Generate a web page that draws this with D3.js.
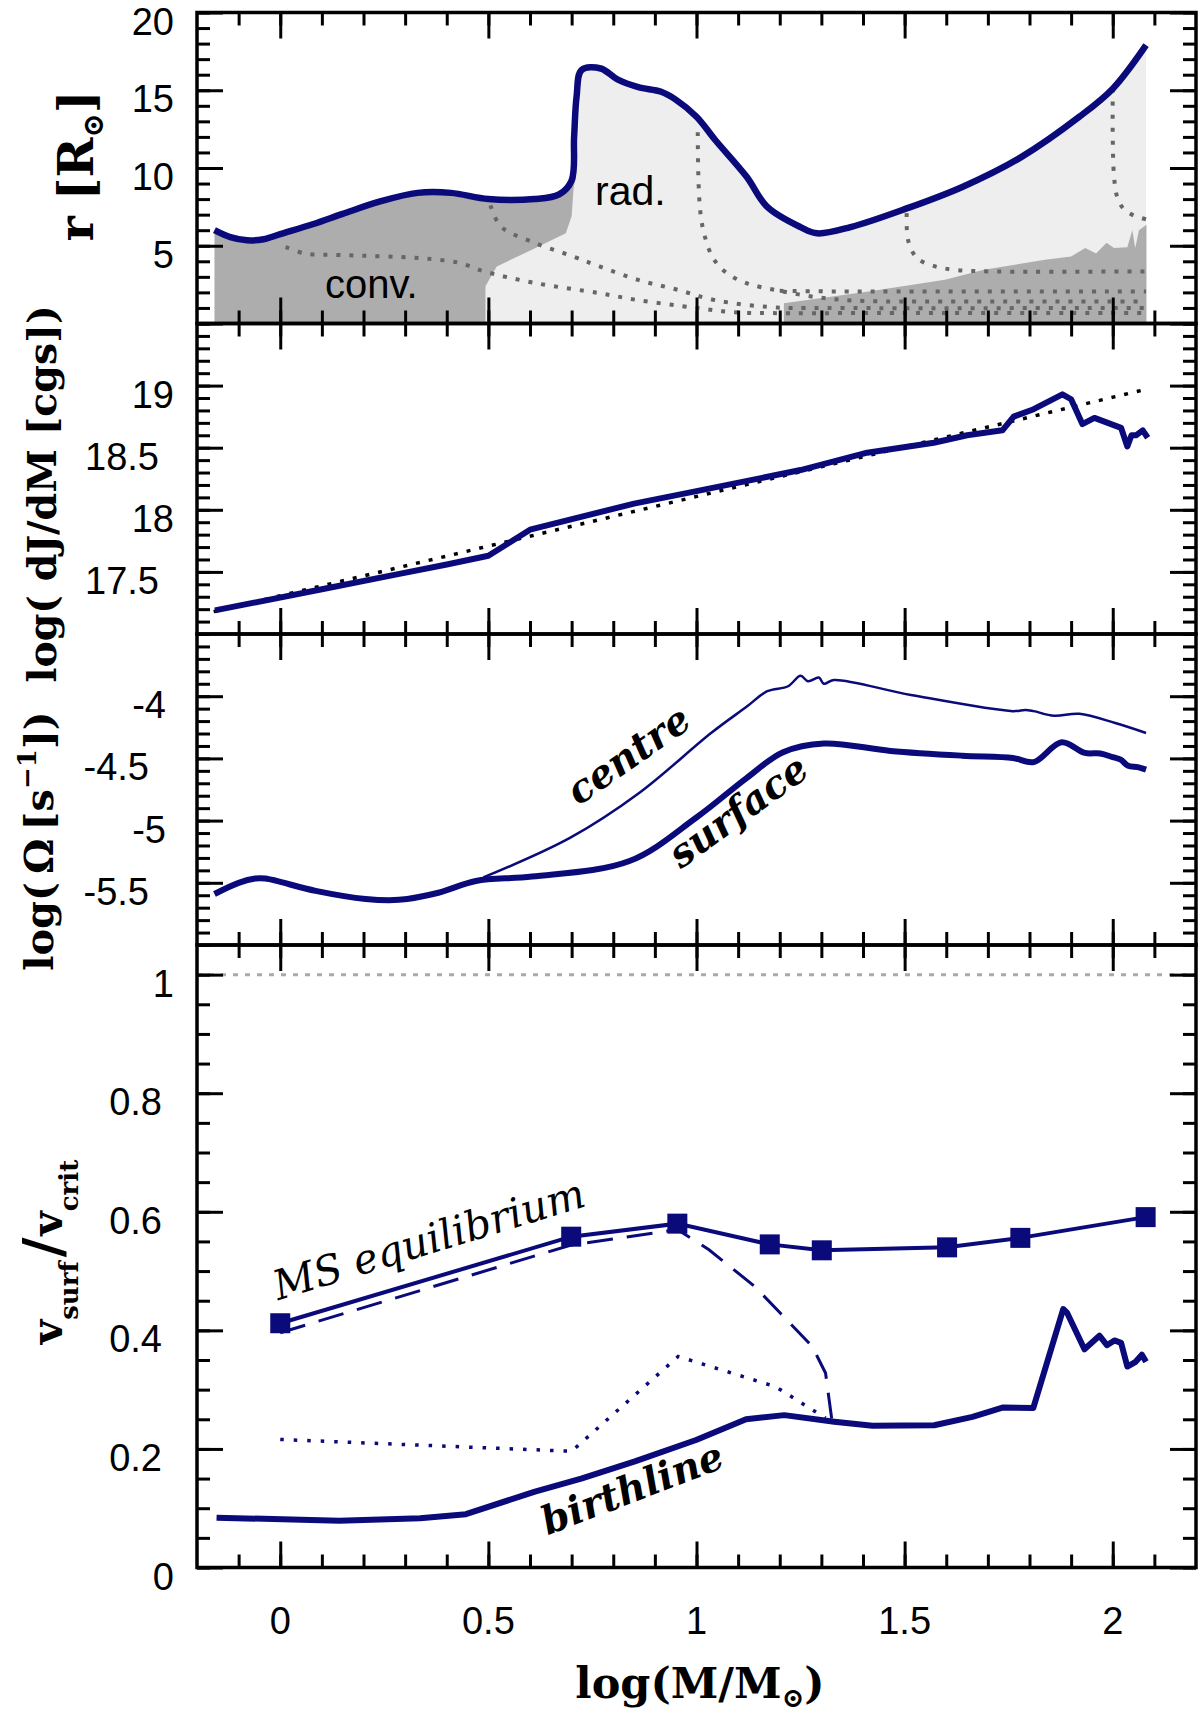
<!DOCTYPE html>
<html>
<head>
<meta charset="utf-8">
<script src="https://cdn.jsdelivr.net/npm/d3@7"></script>
<style>
  body { margin: 0; background: #fff; }
  text { fill: #000; }
</style>
</head>
<body>
<script>
// ---- data ------------------------------------------------------------

// x axis: log(M/Msun)
var xMajor = [0, 0.5, 1, 1.5, 2];
var xLabels = ["0", "0.5", "1", "1.5", "2"];

// panel 1 : radius of the star [Rsun]
var rSurf = [[-0.158,6.0],[-0.12,5.55],[-0.08,5.35],[-0.04,5.42],[0.0,5.75],[0.08,6.4],[0.15,7.05],
  [0.24,7.85],[0.33,8.4],[0.41,8.4],[0.5,8.0],[0.61,8.0],[0.67,8.3],[0.70,9.2],[0.706,12.0],
  [0.712,14.6],[0.724,16.3],[0.77,16.4],[0.81,15.7],[0.86,15.2],[0.915,14.9],[0.95,14.4],
  [1.0,13.3],[1.045,11.8],[1.12,9.45],[1.17,7.5],[1.25,6.2],[1.29,5.8],[1.37,6.2],[1.505,7.4],
  [1.64,8.8],[1.78,10.7],[1.92,13.3],[2.0,15.1],[2.08,17.9]];
// top of the radiative core while the envelope is still convective
var coreTop = [[0.493,0],[0.493,2.4],[0.52,3.67],[0.613,4.85],[0.686,5.8],[0.70,6.9],[0.705,8.8],[0.71,9.3]];
// convective core of the massive stars
var convCore = [[1.21,0],[1.21,1.3],[1.413,2.06],[1.597,2.81],[1.69,3.45],[1.837,4.1],[1.90,4.31],
  [1.934,4.85],[1.96,4.5],[1.985,5.2],[2.003,4.85],[2.035,4.9],[2.047,6.0],[2.054,4.85],
  [2.063,6.0],[2.081,6.35],[2.081,0]];
// mass shells (dotted)
var shellA = [[0.013,4.93],[0.06,4.5],[0.15,4.4],[0.336,4.2],[0.43,3.9],[0.49,3.35],[0.613,2.6],
  [0.767,1.95],[0.86,1.5],[1.0,1.0],[1.09,0.72],[1.18,0.67],[1.4,0.67],[2.08,0.67]];
var shellB = [[0.505,7.6],[0.53,6.24],[0.613,5.17],[0.705,4.3],[0.767,3.67],[0.86,2.8],[0.95,2.2],
  [1.045,1.5],[1.18,1.05],[1.3,1.0],[2.08,1.0]];
var shellC = [[1.003,12.3],[1.005,9.0],[1.01,7.0],[1.02,5.6],[1.04,4.2],[1.07,3.3],[1.12,2.6],
  [1.2,2.1],[1.3,1.65],[1.4,1.45],[1.6,1.42],[2.08,1.42]];
var shellF = [[1.2,2.1],[1.35,2.06],[2.08,2.06]];
var shellD = [[1.505,7.1],[1.505,6.2],[1.51,5.2],[1.53,4.2],[1.57,3.7],[1.62,3.45],[1.7,3.35],[2.08,3.35]];
var shellE = [[2.0,15.1],[2.0,12.0],[2.003,9.5],[2.01,8.2],[2.025,7.4],[2.05,6.95],[2.08,6.7]];

// panel 2 : log dJ/dM [cgs]
var dJdM = [[-0.157,17.19],[0.1,17.36],[0.28,17.48],[0.4,17.56],[0.5,17.63],[0.6,17.84],[0.85,18.05],
  [1.0,18.15],[1.25,18.32],[1.41,18.46],[1.57,18.54],[1.65,18.6],[1.735,18.64],[1.762,18.75],
  [1.81,18.81],[1.879,18.93],[1.9,18.89],[1.927,18.69],[1.956,18.74],[1.988,18.70],[2.02,18.66],
  [2.035,18.51],[2.045,18.60],[2.056,18.60],[2.072,18.64],[2.084,18.58]];
var dJdMfit = [[-0.16,17.18],[2.08,18.97]];

// panel 3 : log Omega [s^-1]
var omegaSurf = [[-0.158,-5.59],[-0.1,-5.5],[-0.06,-5.466],[-0.036,-5.466],[0.085,-5.565],
  [0.205,-5.63],[0.285,-5.637],[0.38,-5.58],[0.47,-5.485],[0.605,-5.45],[0.839,-5.325],
  [0.999,-4.977],[1.121,-4.656],[1.208,-4.45],[1.306,-4.38],[1.466,-4.44],[1.638,-4.478],
  [1.76,-4.496],[1.81,-4.53],[1.877,-4.37],[1.933,-4.456],[1.97,-4.46],[2.0,-4.49],
  [2.019,-4.51],[2.037,-4.56],[2.06,-4.57],[2.08,-4.59]];
var omegaCentre = [[0.488,-5.457],[0.697,-5.137],[0.863,-4.776],[1.035,-4.296],[1.121,-4.083],
  [1.17,-3.96],[1.22,-3.92],[1.25,-3.836],[1.268,-3.88],[1.294,-3.85],[1.306,-3.9],[1.33,-3.87],
  [1.515,-3.99],[1.76,-4.12],[1.79,-4.11],[1.81,-4.12],[1.859,-4.157],[1.92,-4.141],
  [2.006,-4.216],[2.08,-4.296]];

// panel 4 : v_surf / v_crit
var msLogM = [0, 0.699, 0.954, 1.176, 1.301, 1.602, 1.778, 2.079];
var msRatio = [0.412, 0.558, 0.58, 0.545, 0.535, 0.54, 0.556, 0.591];
var dashRatio = [[0,0.396],[0.699,0.544],[0.954,0.57],[1.03,0.536],[1.14,0.474],[1.2,0.43],
  [1.278,0.373],[1.31,0.328],[1.325,0.25]];
var dotRatio = [[0,0.216],[0.70,0.196],[0.956,0.356],[1.19,0.305],[1.31,0.252]];
var birthRatio = [[-0.153,0.084],[0.142,0.079],[0.336,0.083],[0.446,0.09],[0.612,0.128],
  [0.723,0.150],[0.852,0.179],[0.999,0.215],[1.119,0.250],[1.211,0.257],[1.331,0.246],
  [1.423,0.239],[1.571,0.240],[1.663,0.254],[1.737,0.270],[1.809,0.269],[1.881,0.436],
  [1.89,0.43],[1.932,0.368],[1.968,0.391],[1.986,0.375],[2.004,0.383],[2.02,0.379],
  [2.035,0.339],[2.055,0.347],[2.07,0.359],[2.08,0.347]];

// ---- drawing -----------------------------------------------------------

var W = 1200, H = 1718;
var blue = "#0a0a7a";
var svg = d3.select("body").append("svg").attr("width", W).attr("height", H);

var x = d3.scaleLinear().domain([-0.2, 2.2]).range([197, 1196]);

var panels = [
  {y: d3.scaleLinear().domain([0, 20]).range([323.5, 12.5]), major: [0,5,10,15,20],
   minor: d3.range(0, 20.01, 1), labels: [5,10,15,20], fmt: d3.format("d"), endInt: 174, endDec: 174},
  {y: d3.scaleLinear().domain([17, 19.5]).range([634, 323.5]), major: [17.5,18,18.5,19],
   minor: d3.range(17, 19.51, 0.1), labels: [17.5,18,18.5,19], fmt: String, endInt: 174, endDec: 159},
  {y: d3.scaleLinear().domain([-6, -3.5]).range([945, 634]), major: [-5.5,-5,-4.5,-4],
   minor: d3.range(-6, -3.49, 0.1), labels: [-5.5,-5,-4.5,-4], fmt: String, endInt: 166, endDec: 149},
  {y: d3.scaleLinear().domain([0, 1.05]).range([1567.5, 945]), major: [0,0.2,0.4,0.6,0.8,1],
   minor: d3.range(0, 1.051, 0.05), labels: [0,0.2,0.4,0.6,0.8,1], fmt: String, endInt: 174, endDec: 162}
];

function line(yS, curve) {
  return d3.line().x(function(d){ return x(d[0]); }).y(function(d){ return yS(d[1]); })
    .curve(curve || d3.curveLinear);
}
var smooth = d3.curveCatmullRom.alpha(0.5);

// panel 1 ---------------------------------------------------------------
var y1 = panels[0].y;
var convEnv = rSurf.filter(function(d){ return d[0] <= 0.712; });
svg.append("path")
  .attr("d", line(y1)([[convEnv[0][0], 0]].concat(convEnv).concat([[0.712, 0]])) + "Z")
  .attr("fill", "#adadad");
var radPoly = coreTop.concat(rSurf.filter(function(d){ return d[0] > 0.712; })).concat([[2.08, 0]]);
svg.append("path").attr("d", line(y1)(radPoly) + "Z").attr("fill", "#eeeeee");
svg.append("path").attr("d", line(y1)(convCore) + "Z").attr("fill", "#adadad");

[shellA, shellB, shellC, shellF, shellD, shellE].forEach(function(s) {
  svg.append("path").attr("d", line(y1, smooth)(s))
    .attr("fill", "none").attr("stroke", "#666").attr("stroke-width", 4)
    .attr("stroke-dasharray", "4,9");
});
svg.append("path").attr("d", line(y1, smooth)(rSurf))
  .attr("fill", "none").attr("stroke", blue).attr("stroke-width", 6.5).attr("stroke-linejoin", "round");

svg.append("text").attr("x", 325).attr("y", 298).attr("font-family", "Liberation Sans, Arial")
  .attr("font-size", 40).text("conv.");
svg.append("text").attr("x", 595).attr("y", 205).attr("font-family", "Liberation Sans, Arial")
  .attr("font-size", 41).text("rad.");

// panel 2 ---------------------------------------------------------------
var y2 = panels[1].y;
svg.append("path").attr("d", line(y2)(dJdMfit)).attr("fill", "none")
  .attr("stroke", "#000").attr("stroke-width", 3.5).attr("stroke-dasharray", "4,9");
svg.append("path").attr("d", line(y2)(dJdM)).attr("fill", "none")
  .attr("stroke", blue).attr("stroke-width", 6).attr("stroke-linejoin", "round");

// panel 3 ---------------------------------------------------------------
var y3 = panels[2].y;
svg.append("path").attr("d", line(y3, smooth)(omegaCentre)).attr("fill", "none")
  .attr("stroke", blue).attr("stroke-width", 2.5).attr("stroke-linejoin", "round");
svg.append("path").attr("d", line(y3, smooth)(omegaSurf)).attr("fill", "none")
  .attr("stroke", blue).attr("stroke-width", 6).attr("stroke-linejoin", "round");

var serifBI = function(sel) {
  return sel.attr("font-family", "DejaVu Serif").attr("font-weight", "bold")
    .attr("font-style", "italic").attr("font-size", 39).attr("text-anchor", "middle");
};
serifBI(svg.append("text")).attr("transform", "translate(636,766) rotate(-35)").text("centre");
serifBI(svg.append("text")).attr("transform", "translate(746,822) rotate(-36)").text("surface");

// panel 4 ---------------------------------------------------------------
var y4 = panels[3].y;
svg.append("line").attr("x1", x(-0.2)).attr("x2", x(2.2)).attr("y1", y4(1)).attr("y2", y4(1))
  .attr("stroke", "#aaa").attr("stroke-width", 3).attr("stroke-dasharray", "5,7");
svg.append("path").attr("d", line(y4)(dotRatio)).attr("fill", "none")
  .attr("stroke", blue).attr("stroke-width", 3.5).attr("stroke-dasharray", "3.5,10");
svg.append("path").attr("d", line(y4)(dashRatio)).attr("fill", "none")
  .attr("stroke", blue).attr("stroke-width", 3).attr("stroke-dasharray", "26,14");
svg.append("path").attr("d", line(y4)(birthRatio)).attr("fill", "none")
  .attr("stroke", blue).attr("stroke-width", 6).attr("stroke-linejoin", "round");
var ms = msLogM.map(function(v, i){ return [v, msRatio[i]]; });
svg.append("path").attr("d", line(y4)(ms)).attr("fill", "none")
  .attr("stroke", blue).attr("stroke-width", 4);
svg.selectAll("rect.ms").data(ms).enter().append("rect").attr("class", "ms")
  .attr("x", function(d){ return x(d[0]) - 10; }).attr("y", function(d){ return y4(d[1]) - 10; })
  .attr("width", 20).attr("height", 20).attr("fill", blue);

svg.append("text").attr("transform", "translate(433,1253) rotate(-17)")
  .attr("font-family", "DejaVu Serif").attr("font-style", "italic").attr("font-size", 41)
  .attr("text-anchor", "middle").text("MS equilibrium");
serifBI(svg.append("text")).attr("transform", "translate(637,1501) rotate(-21)").text("birthline");

// axes, ticks and frames ----------------------------------------------------
var xMinor = d3.range(-0.1, 2.15, 0.1);
panels.forEach(function(p) {
  var r = p.y.range(), yb = r[0], yt = r[1];
  var g = svg.append("g").attr("class", "axes");
  [[d3.axisBottom, yb], [d3.axisTop, yt]].forEach(function(a) {
    g.append("g").attr("transform", "translate(0," + a[1] + ")")
      .call(a[0](x).tickValues(xMinor).tickSize(-13).tickFormat(""));
    g.append("g").attr("transform", "translate(0," + a[1] + ")")
      .call(a[0](x).tickValues(xMajor).tickSize(-26).tickFormat(""));
  });
  [[d3.axisLeft, 197], [d3.axisRight, 1196]].forEach(function(a) {
    g.append("g").attr("transform", "translate(" + a[1] + ",0)")
      .call(a[0](p.y).tickValues(p.minor).tickSize(-13).tickFormat(""));
    g.append("g").attr("transform", "translate(" + a[1] + ",0)")
      .call(a[0](p.y).tickValues(p.major).tickSize(-26).tickFormat(""));
  });
  g.selectAll(".domain").remove();
  g.selectAll(".tick line").attr("stroke", "#000").attr("stroke-width", 3);
  svg.append("rect").attr("x", 197).attr("y", yt).attr("width", 1196 - 197).attr("height", yb - yt)
    .attr("fill", "none").attr("stroke", "#000").attr("stroke-width", 3.5);
  p.labels.forEach(function(v) {
    var s = p.fmt(v);
    svg.append("text").attr("x", s.indexOf(".") >= 0 ? p.endDec : p.endInt)
      .attr("y", p.y(v) + 22).attr("text-anchor", "end")
      .attr("font-family", "Liberation Sans, Arial").attr("font-size", 38).text(s);
  });
});

xMajor.forEach(function(v, i) {
  svg.append("text").attr("x", x(v)).attr("y", 1634).attr("text-anchor", "middle")
    .attr("font-family", "Liberation Sans, Arial").attr("font-size", 38).text(xLabels[i]);
});

// axis titles ---------------------------------------------------------------
function title(tx, ty, rot, size) {
  return svg.append("text").attr("transform", "translate(" + tx + "," + ty + ")" + (rot ? " rotate(-90)" : ""))
    .attr("text-anchor", "middle").attr("font-family", "DejaVu Serif").attr("font-weight", "bold")
    .attr("font-size", size);
}
var t1 = title(93, 166, true, 48);
t1.append("tspan").text("r");
t1.append("tspan").attr("dx", 16).text("[R");
t1.append("tspan").attr("font-size", 29).attr("dy", 10).text("\u2299");
t1.append("tspan").attr("dy", -10).text("]");

title(56, 494, true, 39.5).text("log( dJ/dM [cgs])");

var t3 = title(53, 841, true, 40);
t3.append("tspan").text("log(\u2009\u03A9\u2009[s");
t3.append("tspan").attr("font-size", 26).attr("dy", -17).text("\u22121");
t3.append("tspan").attr("dy", 17).text("])");

var t4 = title(62, 1252, true, 42);
t4.append("tspan").text("v");
t4.append("tspan").attr("font-size", 26).attr("dy", 16).text("surf");
t4.append("tspan").attr("font-size", 54).attr("dy", -16).attr("dx", 4).text("/");
t4.append("tspan").attr("dx", 2).text("v");
t4.append("tspan").attr("font-size", 26).attr("dy", 16).text("crit");

var tx = title(700, 1698, false, 43);
tx.append("tspan").text("log(M/M");
tx.append("tspan").attr("font-size", 27).attr("dy", 9).text("\u2299");
tx.append("tspan").attr("dy", -9).text(")");
</script>
</body>
</html>
